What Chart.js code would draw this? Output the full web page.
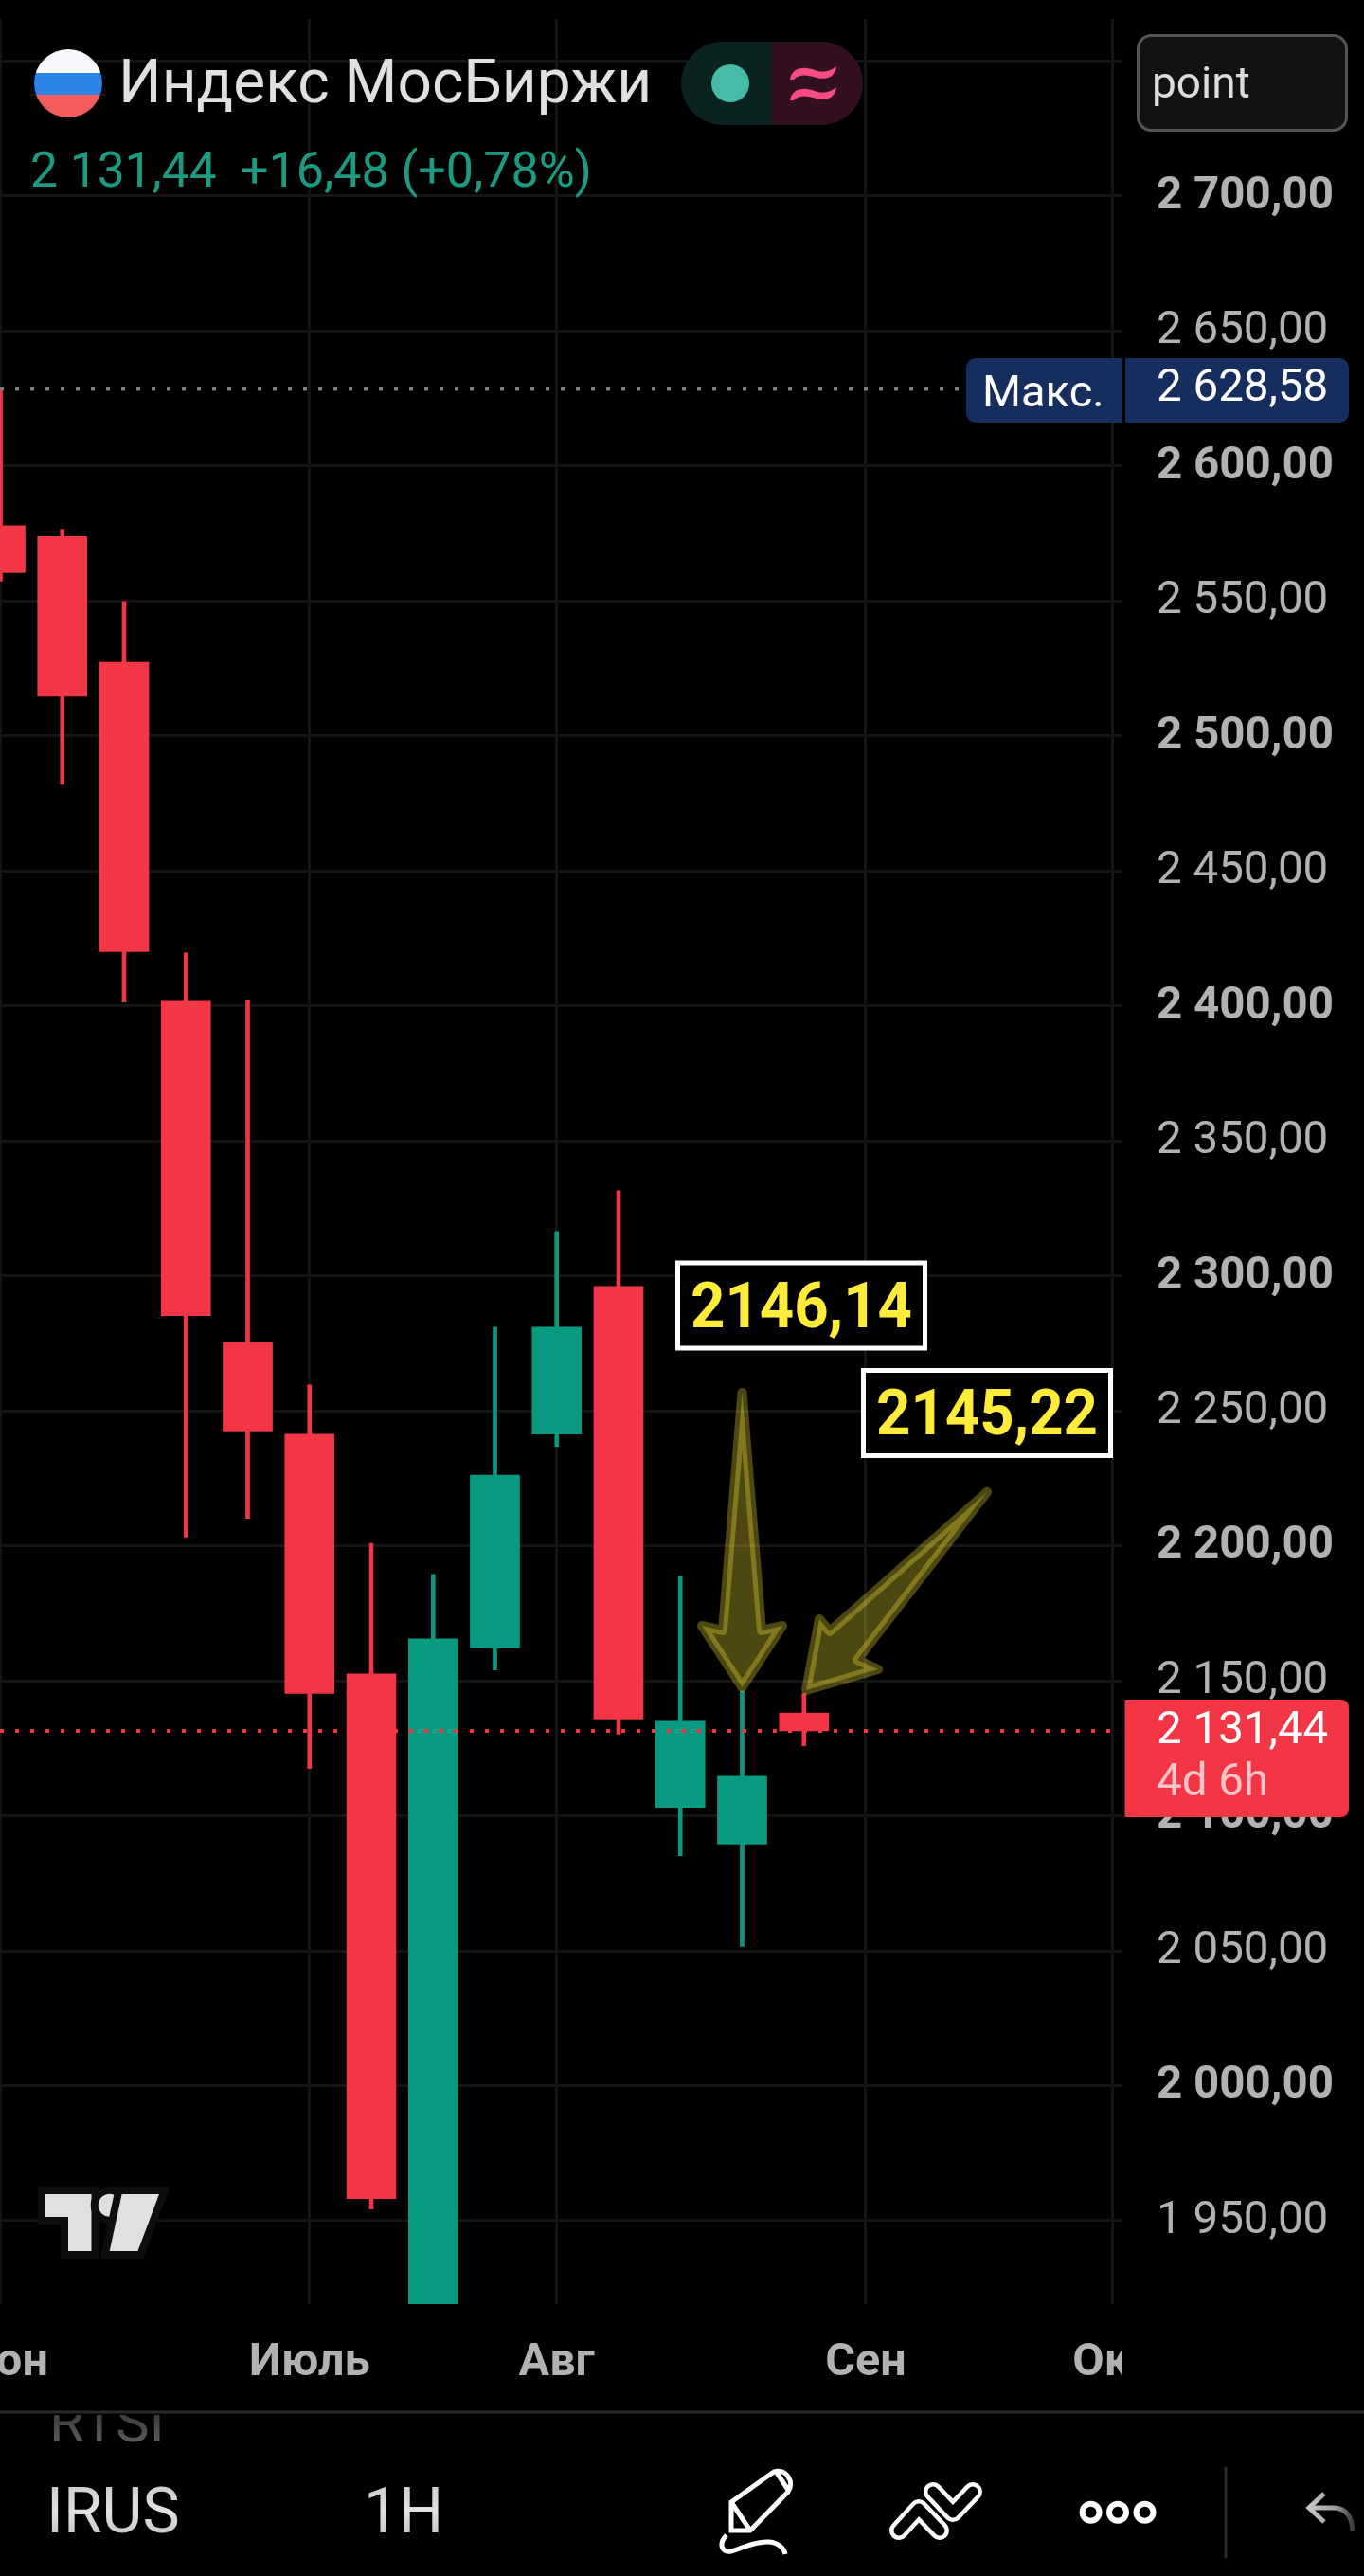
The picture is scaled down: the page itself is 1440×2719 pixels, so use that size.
<!DOCTYPE html>
<html lang="ru">
<head>
<meta charset="utf-8">
<title>Индекс МосБиржи</title>
<script src="https://cdn.jsdelivr.net/npm/chart.js@4"></script>
<style>
html,body{margin:0;padding:0;background:#000;width:1440px;height:2719px;overflow:hidden}
#wrap{position:relative;width:1440px;height:2719px}
canvas{position:absolute;left:0;top:0}
svg{position:absolute;left:0;top:0;font-family:Roboto,sans-serif}
</style>
</head>
<body>
<div id="wrap">
<canvas id="c" width="1440" height="2719"></canvas>
<svg width="1440" height="2719" viewBox="0 0 1440 2719">
  <defs>
    <clipPath id="flagClip"><circle cx="72" cy="88" r="36"/></clipPath>
    <clipPath id="rtsiClip"><rect x="0" y="2549" width="400" height="60"/></clipPath>
    <linearGradient id="tickerGrad" x1="0" y1="0" x2="0" y2="1">
      <stop offset="0" stop-color="#c4c4c4"/><stop offset=".5" stop-color="#e2e2e2"/><stop offset="1" stop-color="#b8b8b8"/>
    </linearGradient>
    <linearGradient id="rtsiGrad" gradientUnits="userSpaceOnUse" x1="0" y1="2530" x2="0" y2="2578">
      <stop offset="0" stop-color="#2a2a2a"/><stop offset="1" stop-color="#5a5a5a"/>
    </linearGradient>
    <linearGradient id="undoGrad" gradientUnits="userSpaceOnUse" x1="1381" y1="0" x2="1430" y2="0">
      <stop offset="0" stop-color="#c8c8c8"/><stop offset=".6" stop-color="#9a9a9a"/><stop offset="1" stop-color="#333"/>
    </linearGradient>
  </defs>

  <!-- header -->
  <g clip-path="url(#flagClip)">
    <rect x="36" y="52" width="72" height="25" fill="#f7f8fb"/>
    <rect x="36" y="77" width="72" height="23" fill="#2a85e6"/>
    <rect x="36" y="100" width="72" height="24" fill="#f25c5c"/>
  </g>
  <text x="125" y="108" font-size="64" fill="#e0e0e0">Индекс МосБиржи</text>
  <text x="32" y="197" font-size="51.5" fill="#1c9b82">2 131,44</text>
  <text x="254" y="197" font-size="52" fill="#1c9b82">+16,48 (+0,78%)</text>

  <!-- status pill -->
  <path d="M815 44H763a44 44 0 0 0 0 88H815Z" fill="#0a2320"/>
  <path d="M815 44H867a44 44 0 0 1 0 88H815Z" fill="#33101f"/>
  <circle cx="771" cy="88" r="20" fill="#45bda6"/>
  <path d="M834 84C836 70 850 70 860 74C868 77 876 76 883 70C882 80 874 85 862 82C852 79 844 78 838 84Z" fill="#f74b85"/>
  <path d="M834 106C836 92 850 92 860 96C868 99 876 98 883 92C882 102 874 107 862 104C852 101 844 100 838 106Z" fill="#f74b85"/>

  <!-- point box -->
  <rect x="1201.5" y="37.5" width="220" height="100" rx="14" fill="#121212" stroke="#555" stroke-width="3"/>
  <text x="1216" y="103" font-size="46" fill="#dcdcdc">point</text>

  <!-- max label -->
  <path d="M1030 378H1184V446H1030a10 10 0 0 1 -10 -10V388a10 10 0 0 1 10 -10Z" fill="#152e5e"/>
  <path d="M1188 378H1414a10 10 0 0 1 10 10V436a10 10 0 0 1 -10 10H1188Z" fill="#152e5e"/>
  <text x="1037" y="429" font-size="47" fill="#fff">Макс.</text>
  <text x="1221" y="423" font-size="47.5" fill="#fff">2 628,58</text>

  <!-- last price label -->
  <path d="M1187.5 1794H1416a8 8 0 0 1 8 8V1910a8 8 0 0 1 -8 8H1187.5Z" fill="#f23645"/>
  <text x="1221" y="1840" font-size="47.5" fill="#fff">2 131,44</text>
  <text x="1221" y="1895" font-size="47.5" fill="#fbc4c9">4d 6h</text>

  <!-- arrows -->
  <g fill="rgba(255,235,59,.3)" stroke="rgba(255,235,59,.3)" stroke-width="10" stroke-linejoin="round">
    <path d="M783.5 1470 L804 1721 L826 1716 L783.5 1781 L741 1716 L763 1721 Z"/>
    <path d="M1042 1575 L876 1722 L865 1709 L851 1784 L927 1762 L905 1752 Z"/>
  </g>

  <!-- value boxes -->
  <rect x="715.5" y="1333" width="261" height="90" fill="#000" stroke="#fff" stroke-width="5"/>
  <text x="729" y="1401" font-size="67" font-weight="700" fill="#ffeb3b" textLength="234" lengthAdjust="spacingAndGlyphs">2146,14</text>
  <rect x="911.5" y="1446.5" width="261" height="90" fill="#000" stroke="#fff" stroke-width="5"/>
  <text x="925" y="1514" font-size="67" font-weight="700" fill="#ffeb3b" textLength="234" lengthAdjust="spacingAndGlyphs">2145,22</text>

  <!-- logo -->
  <g fill="#e0e0e0" stroke="#0e0e0e" stroke-width="16" stroke-linejoin="miter" paint-order="stroke">
    <path d="M48 2316H96.5V2376H72V2340H48Z"/>
    <circle cx="115.7" cy="2327.7" r="12"/>
    <path d="M128.6 2316H168L145.5 2376H115.7Z"/>
  </g>

  <!-- bottom toolbar -->
  <rect x="0" y="2544.5" width="1440" height="3" fill="#2a2a2a"/>
  <text x="52" y="2577" font-size="60" fill="url(#rtsiGrad)" clip-path="url(#rtsiClip)">RTSI</text>
  <text x="49" y="2673" font-size="66" fill="url(#tickerGrad)">IRUS</text>
  <text x="384" y="2673" font-size="66" fill="url(#tickerGrad)">1H</text>

  <g fill="none" stroke="#fff" stroke-width="5">
    <path d="M772 2671V2641L814 2611C820 2606 828 2608 832 2614C836 2620 835 2626 832 2630L792 2671Z" stroke-linejoin="miter"/>
    <path d="M772 2641L792 2671M820 2610L832 2628"/>
    <path d="M767 2676C758 2685 762 2695 772 2693C785 2689 798 2682 812 2683C822 2684 828 2690 829 2696"/>
    <g stroke-linecap="round" stroke-linejoin="round">
      <path d="M949 2671L970 2648L992 2671" stroke-width="20"/>
      <path d="M949 2671L970 2648L992 2671" stroke="#000" stroke-width="11"/>
      <path d="M985 2630L1006 2652L1027 2630" stroke-width="20"/>
      <path d="M985 2630L1006 2652L1027 2630" stroke="#000" stroke-width="11"/>
    </g>
    <circle cx="1151.6" cy="2651.7" r="9" stroke-width="6"/>
    <circle cx="1180" cy="2651.7" r="9" stroke-width="6"/>
    <circle cx="1208.5" cy="2651.7" r="9" stroke-width="6"/>
  </g>
  <rect x="1292.5" y="2604" width="3" height="96" fill="#2a2a2a"/>
  <path d="M1398 2632L1382 2647L1398 2662M1382 2647H1408C1420 2647 1428 2656 1428 2672" fill="none" stroke="url(#undoGrad)" stroke-width="5"/>
</svg>
</div>
<script>
// --- data ---
const candleIdx = [0,1,2,3,4,5,6,7,8,9,10,11,12,13];
const opens  = [2577.9,2573.9,2527.3,2401.7,2275.5,2241.3,2152.5,1905.0,2162.1,2241.4,2296.1,2103.1,2089.5,2138.1];
const highs  = [2628.58,2576.6,2549.8,2419.6,2402.0,2259.6,2200.9,2189.4,2281.0,2316.4,2331.5,2188.7,2146.14,2145.22];
const lows   = [2557.3,2482.1,2401.4,2203.2,2210.2,2117.5,1954.3,1895.0,2154.0,2236.8,2130.2,2085.2,2051.6,2125.9];
const closes = [2560.5,2514.7,2420.1,2285.3,2242.5,2145.3,1958.2,2165.5,2226.2,2281.0,2135.8,2135.0,2114.6,2131.44];
const yTicks = [2750,2700,2650,2600,2550,2500,2450,2400,2350,2300,2250,2200,2150,2100,2050,2000,1950];
const monthIdx    = [0,5,9,14,18];
const monthLabels = ['Июн','Июль','Авг','Сен','Окт'];
const maxPrice  = 2628.58;
const lastPrice = 2131.44;

const UP = '#089981', DOWN = '#f23645';
const colours = candleIdx.map((_, i) => closes[i] >= opens[i] ? UP : DOWN);
const X_MIN = -0.00766, X_MAX = 18.138, Y_MIN = 1919.1, Y_MAX = 2765.6;
const fmt = v => {
  const s = v.toFixed(2).replace('.', ',');
  return s[0] + '\u00a0' + s.slice(1);
};
const noPad = s => { s.paddingLeft = s.paddingRight = s.paddingTop = s.paddingBottom = 0; };

const clipXLabels = {
  id: 'clipXLabels',
  beforeDatasetsDraw(chart) {
    const { ctx, chartArea: a } = chart;
    ctx.save();
    ctx.fillStyle = '#000';
    ctx.fillRect(a.right, a.bottom, chart.width - a.right, 100);
    ctx.restore();
  }
};

new Chart(document.getElementById('c'), {
  type: 'bar',
  plugins: [clipXLabels],
  data: {
    datasets: [
      { type: 'line', order: 0, data: [{x: X_MIN, y: lastPrice}, {x: X_MAX, y: lastPrice}],
        borderColor: '#f23645', borderWidth: 4, borderDash: [4, 12], pointRadius: 0 },
      { type: 'line', order: 0, data: [{x: X_MIN, y: maxPrice}, {x: X_MAX, y: maxPrice}],
        borderColor: '#808080', borderWidth: 4, borderDash: [4, 12], pointRadius: 0 },
      { order: 1, data: candleIdx.map((x, i) => ({x, y: [opens[i], closes[i]]})),
        backgroundColor: colours, barThickness: 52, grouped: false, borderWidth: 0 },
      { order: 2, data: candleIdx.map((x, i) => ({x, y: [lows[i], highs[i]]})),
        backgroundColor: colours, barThickness: 4, grouped: false, borderWidth: 0 }
    ]
  },
  options: {
    responsive: false,
    animation: false,
    events: [],
    layout: { autoPadding: false, padding: { top: 20, left: 0, right: 0, bottom: 0 } },
    plugins: { legend: { display: false }, tooltip: { enabled: false }, title: { display: false } },
    scales: {
      x: {
        type: 'linear', min: X_MIN, max: X_MAX, offset: false,
        afterBuildTicks: s => { s.ticks = monthIdx.map(v => ({ value: v })); },
        afterFit: s => { s.height = 287; noPad(s); },
        grid: { offset: false, color: '#141414', lineWidth: 3, drawTicks: false },
        border: { display: false },
        ticks: {
          autoSkip: false, maxRotation: 0, padding: 34, color: '#b2b2b2',
          font: { family: 'Roboto', size: 48.5, weight: 'bold' },
          callback: v => monthLabels[monthIdx.indexOf(v)]
        }
      },
      y: {
        type: 'linear', position: 'right', min: Y_MIN, max: Y_MAX,
        afterBuildTicks: s => { s.ticks = yTicks.map(v => ({ value: v })); },
        afterFit: s => { s.width = 256; noPad(s); },
        grid: { color: '#141414', lineWidth: 3, drawTicks: false },
        border: { display: false },
        ticks: {
          autoSkip: false, padding: 37, color: '#b2b2b2', labelOffset: 1,
          font: c => ({ family: 'Roboto', size: 47.5, weight: (c.tick && c.tick.value % 100 === 0) ? 'bold' : 'normal' }),
          callback: v => fmt(v)
        }
      }
    }
  }
});
</script>
</body>
</html>
